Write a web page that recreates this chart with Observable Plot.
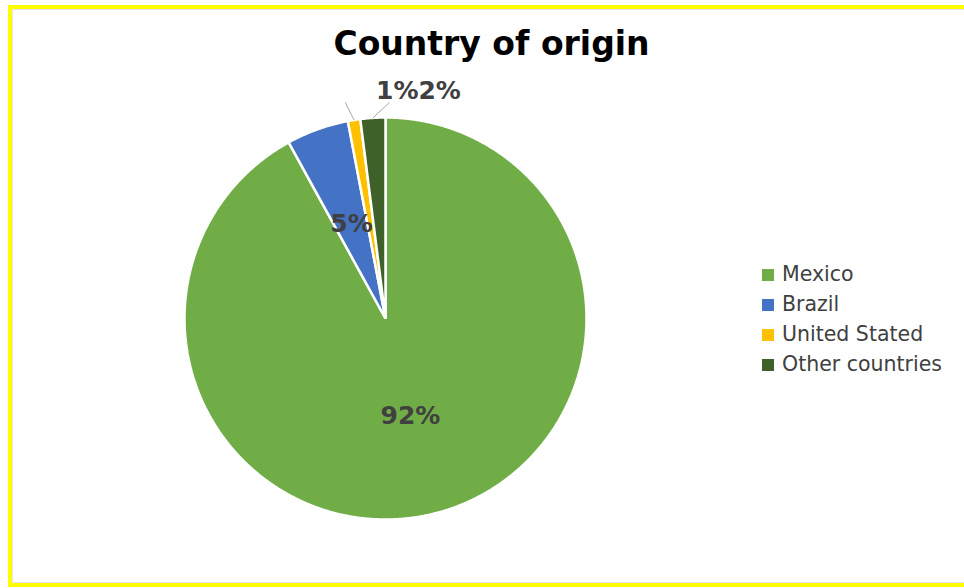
<!DOCTYPE html>
<html><head><meta charset="utf-8">
<script src="https://cdn.jsdelivr.net/npm/d3@7"></script>
<script src="https://cdn.jsdelivr.net/npm/@observablehq/plot@0.6"></script>
<style>
body{margin:0;background:#fff;}
#wrap{position:relative;width:964px;height:588px;overflow:hidden;background:#fff;}
#border{position:absolute;left:8px;top:5px;width:1000px;height:574px;border:4px solid #ffff00;border-right:none;box-shadow:inset 0 0 0 1px #e6e6e6;}
#chart{position:absolute;left:0;top:0;}
#legend{position:absolute;left:762px;top:260px;width:202px;}
#legend *{font-family:"DejaVu Sans" !important;font-size:20.5px !important;color:#404040;line-height:29px !important;}
#legend svg{margin-right:8px !important;}
</style></head><body>
<div id="wrap"><div id="border"></div><div id="chart"></div><div id="legend"></div></div>
<script>
// ---- data ----
const title = "Country of origin";
const countries = ["Mexico", "Brazil", "United Stated", "Other countries"];
const shares = [92, 5, 1, 2];
const colors = ["#70ad47", "#4472c4", "#ffc000", "#3d6129"];

// ---- layout (not data) ----
const smallThreshold = 3;          // slices below this get an outside label
const insideLabelRadius = 0.5;
const outsideLabelY = 1.134;
const outsideLabelJoinX = 0.164;
const leaderEnds = {"United Stated": [-0.2, 1.075], "Other countries": [0.02, 1.075]};

const data = countries.map((c, i) => ({name: c, value: shares[i]}));
const arcs = d3.pie().sort(null).value(d => d.value)(data);

const poly = [];
for (const a of arcs) {
  const n = Math.max(2, Math.ceil((a.endAngle - a.startAngle) / 0.005));
  poly.push({name: a.data.name, x: 0, y: 0});
  for (let k = 0; k <= n; k++) {
    const t = a.startAngle + (a.endAngle - a.startAngle) * k / n;
    poly.push({name: a.data.name, x: Math.sin(t), y: Math.cos(t)});
  }
}
const mid = a => (a.startAngle + a.endAngle) / 2;
const inside = arcs.filter(a => a.data.value >= smallThreshold).map(a => ({
  text: a.data.value + "%", x: insideLabelRadius * Math.sin(mid(a)), y: insideLabelRadius * Math.cos(mid(a))
}));
const small = arcs.filter(a => a.data.value < smallThreshold);
const outside = small.map((a, i) => ({
  text: a.data.value + "%", x: outsideLabelJoinX, y: outsideLabelY, anchor: i === 0 ? "end" : "start"
}));
const leaders = small.map(a => ({
  x1: Math.sin(mid(a)), y1: Math.cos(mid(a)),
  x2: leaderEnds[a.data.name][0], y2: leaderEnds[a.data.name][1]
}));

const chart = Plot.plot({
  width: 964, height: 588, margin: 0,
  x: {domain: [-1, 1], range: [184, 586], axis: null},
  y: {domain: [-1, 1], range: [519, 117], axis: null},
  color: {domain: countries, range: colors},
  style: {fontFamily: "DejaVu Sans", background: "transparent", overflow: "visible"},
  marks: [
    Plot.line(poly, {x: "x", y: "y", z: "name", fill: "name", stroke: "white", strokeWidth: 2.5, curve: "linear-closed", strokeLinejoin: "miter"}),
    Plot.text(inside, {x: "x", y: "y", text: "text", fontSize: 25, fontWeight: "bold", fill: "#404040"}),
    Plot.link(leaders, {x1: "x1", y1: "y1", x2: "x2", y2: "y2", stroke: "#a6a6a6", strokeWidth: 1}),
    Plot.text(outside.filter(d => d.anchor === "end"), {x: "x", y: "y", text: "text", textAnchor: "end", fontSize: 25, fontWeight: "bold", fill: "#404040"}),
    Plot.text(outside.filter(d => d.anchor === "start"), {x: "x", y: "y", text: "text", textAnchor: "start", fontSize: 25, fontWeight: "bold", fill: "#404040"}),
    Plot.text([title], {frameAnchor: "top", dx: 9, dy: 31, text: d => d, fontSize: 33, fontWeight: "bold", fill: "black"})
  ]
});
document.getElementById("chart").appendChild(chart);

const leg = Plot.legend({
  color: {domain: countries, range: colors, type: "ordinal"},
  columns: 1, swatchSize: 12
});
document.getElementById("legend").appendChild(leg);
</script>
</body></html>
